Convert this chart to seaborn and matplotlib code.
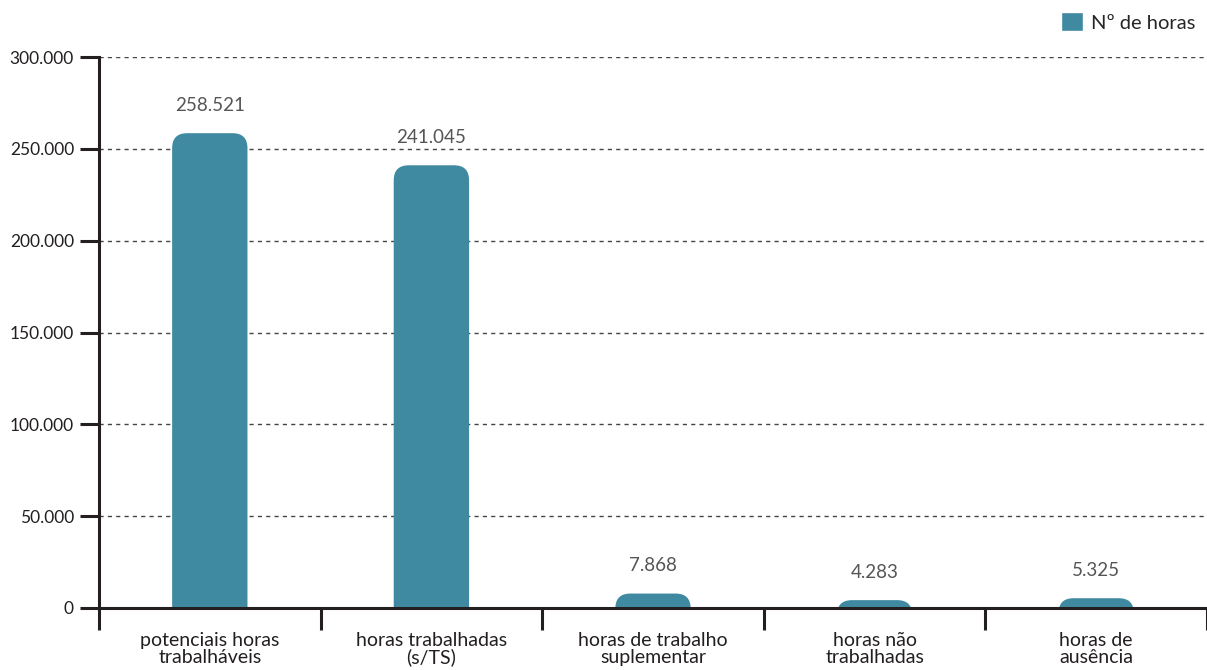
import pandas as pd
import seaborn as sns
import matplotlib.pyplot as plt
from matplotlib.patches import FancyBboxPatch, Patch

# data
categories = ["potenciais horas\ntrabalháveis", "horas trabalhadas\n(s/TS)",
              "horas de trabalho\nsuplementar", "horas não\ntrabalhadas", "horas de\nausência"]
hours = [258521, 241045, 7868, 4283, 5325]
y_ticks = [0, 50000, 100000, 150000, 200000, 250000, 300000]
series_name = "Nº de horas"

bar_color = "#3F8AA1"
dark = "#231f20"

sns.set_style("white")
plt.rcParams["font.family"] = ["Lato", "DejaVu Sans"]

df = pd.DataFrame({"categoria": categories, "horas": hours})

fig = plt.figure(figsize=(12.07, 6.70), dpi=100)
ax = fig.add_axes([99 / 1207, 1 - 608 / 670, 1 - 99 / 1207, (608 - 57) / 670])

sns.barplot(data=df, x="categoria", y="horas", color=bar_color, width=0.34,
            saturation=1, ax=ax)

ax.set_xlim(-0.5, 4.5)
ax.set_ylim(0, 300000)

# swap plain bars for bars with rounded tops
fig.canvas.draw()
x_per_px = 5 / ax.bbox.width
y_per_px = 300000 / ax.bbox.height
aspect = y_per_px / x_per_px
radius_px = 15
r_x = radius_px * x_per_px
for p in list(ax.patches):
    x0, w, h = p.get_x(), p.get_width(), p.get_height()
    p.set_visible(False)
    ext = radius_px * y_per_px
    box = FancyBboxPatch((x0 + r_x, -ext + r_x * aspect), w - 2 * r_x, h + ext - 2 * r_x * aspect,
                         boxstyle=f"round,pad={r_x},rounding_size={r_x}",
                         mutation_aspect=aspect, facecolor=bar_color, edgecolor="none",
                         clip_on=True, zorder=2)
    ax.add_patch(box)
    ax.annotate(f"{h:,.0f}".replace(",", "."), (x0 + w / 2, h), xytext=(0, 14),
                textcoords="offset points", ha="center", va="bottom",
                fontsize=13.5, color="#555555", zorder=5,
                bbox=dict(facecolor="white", edgecolor="none", pad=1))

# grid and axes
ax.set_yticks(y_ticks)
ax.set_yticklabels([f"{v:,}".replace(",", ".") for v in y_ticks], fontsize=12.5, color=dark)
ax.yaxis.grid(True, linestyle=(0, (3, 3)), color="#444444", linewidth=1)
ax.set_axisbelow(True)
for s in ["top", "right"]:
    ax.spines[s].set_visible(False)
for s in ["left", "bottom"]:
    ax.spines[s].set_color(dark)
    ax.spines[s].set_linewidth(2.2)

ax.tick_params(axis="y", length=14, width=2.2, color=dark, pad=4, left=True)
ax.set_xticks(range(len(categories)))
ax.set_xticklabels(categories, fontsize=14, color=dark, linespacing=1.0)
ax.tick_params(axis="x", which="major", length=0, pad=17)
ax.set_xticks([i - 0.5 for i in range(len(categories) + 1)], minor=True)
ax.tick_params(axis="x", which="minor", length=16, width=2.2, color=dark, bottom=True)
ax.set_xlabel("")
ax.set_ylabel("")

fig.legend(handles=[Patch(facecolor=bar_color, label=series_name)], loc="upper right",
           bbox_to_anchor=(1.0, 1.0), frameon=False, fontsize=14.5, handlelength=1.1,
           handleheight=1.1, handletextpad=0.35, borderaxespad=0.1, borderpad=0.5)

fig.savefig("out.png", dpi=100)
